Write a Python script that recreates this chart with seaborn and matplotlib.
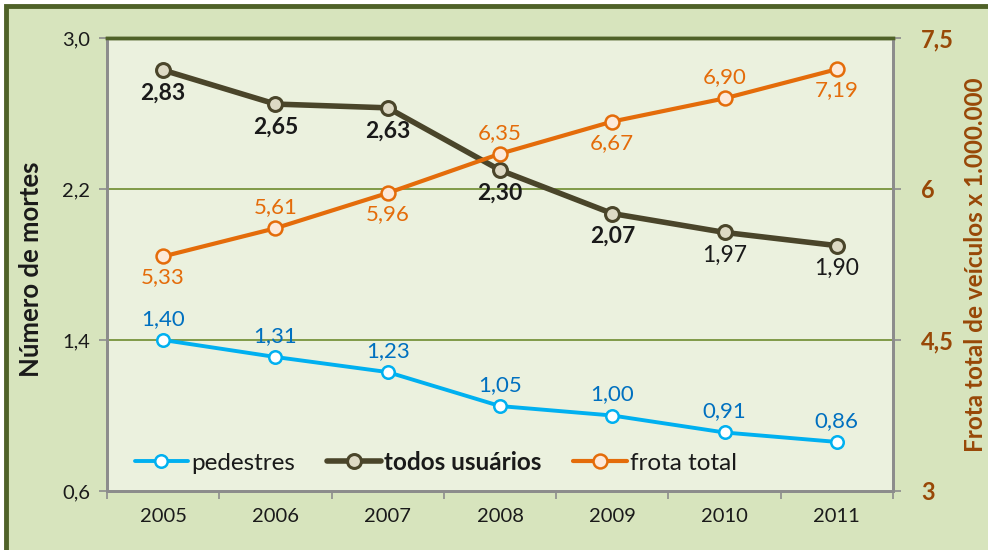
import matplotlib
matplotlib.use("Agg")
import matplotlib.pyplot as plt
from matplotlib.patches import Rectangle
from matplotlib.lines import Line2D
import seaborn as sns
import pandas as pd

anos = ["2005", "2006", "2007", "2008", "2009", "2010", "2011"]
pedestres = [1.40, 1.31, 1.23, 1.05, 1.00, 0.91, 0.86]
todos_usuarios = [2.83, 2.65, 2.63, 2.30, 2.07, 1.97, 1.90]
frota_total = [5.33, 5.61, 5.96, 6.35, 6.67, 6.90, 7.19]

ticks_esq = [0.6, 1.4, 2.2, 3.0]
ticks_dir = [3, 4.5, 6, 7.5]
rotulos_dir = ["3", "4,5", "6", "7,5"]

sns.set_theme(style="white")
plt.rcParams["font.family"] = ["Lato", "DejaVu Sans"]

C_PED = "#00b0f0"
C_PED_TXT = "#0070c0"
C_TOD = "#4a452a"
C_TOD_FILL = "#ddd9c4"
C_FRO = "#e46c0a"
C_FRO_FILL = "#fde9d9"
C_DIR = "#984807"
BG_OUT = "#d7e4bd"
BG_IN = "#ebf1de"
BORDA = "#4f6228"
GRADE = "#77933c"
EIXO = "#8c8c8c"
TXT = "#1a1a1a"

df = pd.DataFrame({"ano": anos, "x": range(len(anos)),
                   "pedestres": pedestres, "todos": todos_usuarios,
                   "frota": frota_total})

fig = plt.figure(figsize=(9.88, 5.5), dpi=100)
fig.patch.set_facecolor("white")
fig.patches.append(Rectangle((6 / 988, -0.05), 1.1, 1 - 6 / 550 + 0.05,
                             transform=fig.transFigure, facecolor=BG_OUT,
                             edgecolor=BORDA, linewidth=3.5, zorder=-10))

ax = fig.add_axes([107 / 988, 1 - 491 / 550, 786 / 988, 453 / 550])
ax.set_facecolor(BG_IN)
ax2 = ax.twinx()

# horizontal grid at interior ticks
for y in ticks_esq[1:3]:
    ax.axhline(y, color=GRADE, lw=1.3, zorder=1)

sns.lineplot(data=df, x="x", y="pedestres", ax=ax, color=C_PED, lw=2.8,
             marker="o", markersize=9, markerfacecolor="white",
             markeredgecolor=C_PED, markeredgewidth=1.8, zorder=3)
sns.lineplot(data=df, x="x", y="todos", ax=ax, color=C_TOD, lw=4,
             marker="o", markersize=10, markerfacecolor=C_TOD_FILL,
             markeredgecolor=C_TOD, markeredgewidth=2.2, zorder=4)
sns.lineplot(data=df, x="x", y="frota", ax=ax2, color=C_FRO, lw=3,
             marker="o", markersize=10, markerfacecolor=C_FRO_FILL,
             markeredgecolor=C_FRO, markeredgewidth=1.8, zorder=3)

ax.set_xlim(-0.5, len(anos) - 0.5)
ax.set_ylim(0.6, 3.0)
ax2.set_ylim(3, 7.5)

def fmt(v):
    return f"{v:.2f}".replace(".", ",")

for i, v in enumerate(pedestres):
    ax.annotate(fmt(v), (i, v), xytext=(0, 8), textcoords="offset points",
                ha="center", va="bottom", fontsize=16, color=C_PED_TXT)
for i, v in enumerate(todos_usuarios):
    ax.annotate(fmt(v), (i, v), xytext=(0, -9), textcoords="offset points",
                ha="center", va="top", fontsize=16.5, color=TXT,
                fontweight="bold" if i < 5 else "normal")
for i, v in enumerate(frota_total):
    off = -8 if i % 2 == 0 else 8
    ax2.annotate(fmt(v), (i, v), xytext=(0, off), textcoords="offset points",
                 ha="center", va="top" if off < 0 else "bottom",
                 fontsize=16, color=C_FRO)

# category axis: ticks at boundaries, labels at centers
ax.set_xticks([i - 0.5 for i in range(len(anos) + 1)])
ax.set_xticklabels([])
ax.set_xticks(range(len(anos)), minor=True)
ax.set_xticklabels(anos, minor=True, fontsize=14.5, color=TXT)
ax.tick_params(axis="x", which="major", length=6, width=1.2, color=EIXO,
               direction="out", bottom=True)
ax.tick_params(axis="x", which="minor", length=0, pad=12)
ax.set_xlabel("")

ax.set_yticks(ticks_esq)
ax.set_yticklabels([f"{t:.1f}".replace(".", ",") for t in ticks_esq],
                   fontsize=14.5, color=TXT)
ax.tick_params(axis="y", length=6, width=1.2, color=EIXO, left=True, pad=6)
ax.set_ylabel("Número de mortes", fontsize=18.5, fontweight="bold", color=TXT)
ax.yaxis.set_label_coords(-0.082, 0.49)

ax2.set_yticks(ticks_dir)
ax2.set_yticklabels(rotulos_dir, fontsize=17, fontweight="bold", color=C_DIR)
ax2.tick_params(axis="y", length=6, width=1.2, color=EIXO, right=True, pad=14)
ax2.set_ylabel("Frota total de veículos x 1.000.000", fontsize=17.5,
               fontweight="bold", color=C_DIR)
ax2.yaxis.set_label_coords(1.09, 0.5)

for a in (ax, ax2):
    for s in ("left", "right", "bottom"):
        a.spines[s].set_color(EIXO)
        a.spines[s].set_linewidth(2)
    a.spines["top"].set_color(BORDA)
    a.spines["top"].set_linewidth(2.5)

handles = [
    Line2D([], [], color=C_PED, lw=2.8, marker="o", markersize=9,
           markerfacecolor="white", markeredgecolor=C_PED, markeredgewidth=1.8),
    Line2D([], [], color=C_TOD, lw=4, marker="o", markersize=10,
           markerfacecolor=C_TOD_FILL, markeredgecolor=C_TOD, markeredgewidth=2.2),
    Line2D([], [], color=C_FRO, lw=3, marker="o", markersize=10,
           markerfacecolor=C_FRO_FILL, markeredgecolor=C_FRO, markeredgewidth=1.8),
]
if ax.get_legend():
    ax.get_legend().remove()
if ax2.get_legend():
    ax2.get_legend().remove()
leg = ax2.legend(handles, ["pedestres", "todos usuários", "frota total"],
                 loc="center left", bbox_to_anchor=(0.035, 0.064), ncol=3,
                 frameon=False, fontsize=17.5, handlelength=2.2,
                 handletextpad=0.15, columnspacing=1.3, borderpad=0,
                 borderaxespad=0)
leg.get_texts()[1].set_fontweight("bold")
for t in leg.get_texts():
    t.set_color(TXT)

fig.savefig("out.png", dpi=100, facecolor=fig.get_facecolor())
